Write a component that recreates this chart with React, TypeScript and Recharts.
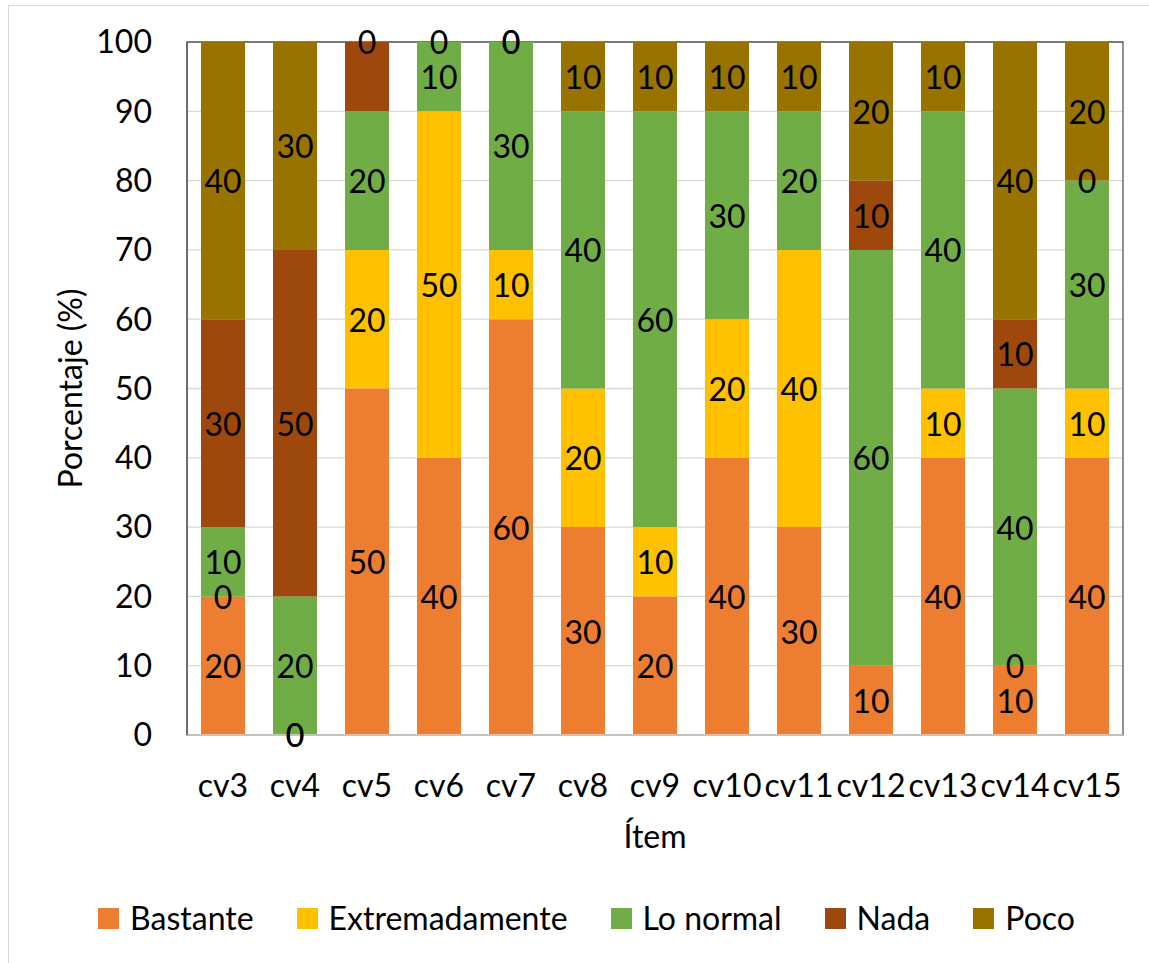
import React from 'react';
import { BarChart, Bar, XAxis, YAxis, CartesianGrid, Legend, LabelList, ReferenceArea } from 'recharts';

const categories = ['cv3', 'cv4', 'cv5', 'cv6', 'cv7', 'cv8', 'cv9', 'cv10', 'cv11', 'cv12', 'cv13', 'cv14', 'cv15'];
const bastante = [20, 0, 50, 40, 60, 30, 20, 40, 30, 10, 40, 10, 40];
const extremadamente = [0, 0, 20, 50, 10, 20, 10, 20, 40, null, 10, 0, 10];
const loNormal = [10, 20, 20, 10, 30, 40, 60, 30, 20, 60, 40, 40, 30];
const nada = [30, 50, 10, null, 0, null, null, null, null, 10, null, 10, 0];
const poco = [40, 30, 0, 0, 0, 10, 10, 10, 10, 20, 10, 40, 20];
const yTicks = [0, 10, 20, 30, 40, 50, 60, 70, 80, 90, 100];
// etiquetas que no aparecen en el original
const hiddenLabels = ['Nada|cv5'];

const series = [
  { key: 'Bastante', values: bastante, color: '#ED7D31' },
  { key: 'Extremadamente', values: extremadamente, color: '#FFC000' },
  { key: 'Lo normal', values: loNormal, color: '#70AD47' },
  { key: 'Nada', values: nada, color: '#9E480E' },
  { key: 'Poco', values: poco, color: '#997300' },
];

const data = categories.map((name, i) => {
  const row: any = { name };
  series.forEach(s => { row[s.key] = s.values[i]; });
  return row;
});

const FONT = 'Lato, "Open Sans", sans-serif';

// leyenda como en Excel: cuadrito + texto
const renderLegend = (props: any) => {
  const { payload } = props;
  return (
    <div style={{ display: 'flex', justifyContent: 'center', alignItems: 'center', paddingLeft: 15 }}>
      {payload.map((p: any, i: number) => (
        <div key={p.value} style={{ display: 'flex', alignItems: 'center', marginRight: i === payload.length - 1 ? 0 : 43 }}>
          <div style={{ width: 21, height: 21, background: p.color, marginRight: 11 }} />
          <span style={{ fontSize: 32, color: '#000', fontFamily: FONT, lineHeight: '40px' }}>{p.value}</span>
        </div>
      ))}
    </div>
  );
};

const makeLabel = (serie: string) => (props: any) => {
  const { x, y, width, height, value, index } = props;
  if (value === null || value === undefined) return null;
  if (hiddenLabels.includes(`${serie}|${categories[index]}`)) return null;
  return (
    <text
      x={x + width / 2}
      y={y + height / 2}
      textAnchor="middle"
      dominantBaseline="central"
      fontSize={32}
      fill="#000"
      fontFamily={FONT}
    >
      {value}
    </text>
  );
};

const App: React.FC = () => {
  return (
    <div
      style={{
        position: 'absolute',
        left: 8,
        top: 5,
        width: 1141,
        height: 958,
        borderLeft: '1px solid #D9D9D9',
        borderTop: '1px solid #D9D9D9',
        fontFamily: FONT,
        background: '#fff',
      }}
    >
      <style>{'body{margin:0;overflow:hidden;}'}</style>
      <BarChart
        width={1140}
        height={957}
        data={data}
        margin={{ top: 36, right: 26, left: 0, bottom: 108 }}
        barSize={44}
      >
        <CartesianGrid horizontal vertical={false} stroke="#D9D9D9" strokeWidth={1.3} />
        <XAxis
          dataKey="name"
          interval={0}
          height={120}
          axisLine={{ stroke: '#D9D9D9', strokeWidth: 1.3 }}
          tickLine={false}
          tickSize={0}
          tickMargin={39}
          tick={{ fontSize: 32, fill: '#000', fontFamily: FONT }}
          label={{ value: 'Ítem', position: 'insideBottom', offset: 7, fontSize: 32, fill: '#000', fontFamily: FONT }}
        />
        <YAxis
          domain={[0, 100]}
          ticks={yTicks}
          width={178}
          axisLine={{ stroke: '#595959', strokeWidth: 1.3 }}
          tickLine={false}
          tickSize={0}
          tickMargin={35}
          tick={{ fontSize: 32, fill: '#000', fontFamily: FONT }}
          label={{
            value: 'Porcentaje (%)',
            angle: -90,
            position: 'insideLeft',
            offset: 62,
            fontSize: 32,
            fill: '#000',
            fontFamily: FONT,
            style: { textAnchor: 'middle' },
          }}
        />
        <ReferenceArea y1={0} y2={100} fill="none" stroke="#595959" strokeWidth={1.3} ifOverflow="visible" />
        {series.map(s => (
          <Bar key={s.key} dataKey={s.key} stackId="a" fill={s.color} minPointSize={0.01} isAnimationActive={false}>
            <LabelList dataKey={s.key} content={makeLabel(s.key)} />
          </Bar>
        ))}
        <Legend
          verticalAlign="middle"
          layout="horizontal"
          align="center"
          content={renderLegend}
          wrapperStyle={{ top: 892, left: 0, width: 1140 }}
        />
      </BarChart>
    </div>
  );
};

export default App;
